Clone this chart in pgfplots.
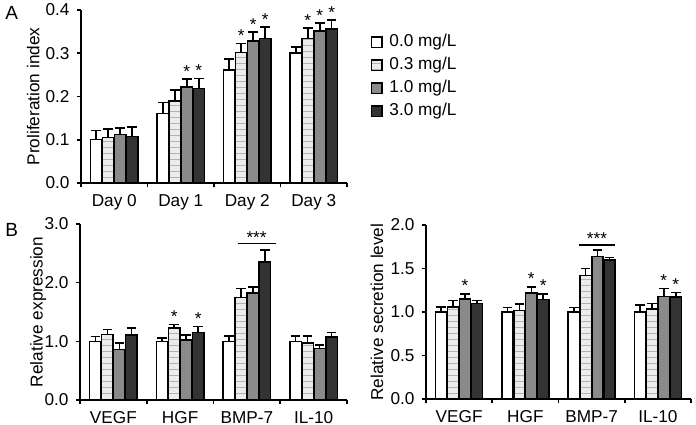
\documentclass[border=0pt]{standalone}
\usepackage{pgfplots}
\pgfplotsset{compat=1.18}
\usepackage{fontspec}
\setmainfont{Liberation Sans}
\usetikzlibrary{patterns}
\definecolor{cgray}{HTML}{8A8A8A}
\definecolor{cdark}{HTML}{333333}
\pgfplotsset{
  panel/.style={
    scale only axis,
    ybar,
    axis x line*=bottom, axis y line*=left,
    axis line style={line width=0.8pt},
    every tick/.style={line width=0.8pt, black},
    tick align=outside,
    major tick length=2.2pt, minor tick length=2.2pt,
    xmin=-0.5, xmax=3.5,
    xtick={0,1,2,3},
    minor xtick={-0.5,0.5,1.5,2.5,3.5},
    every major x tick/.append style={draw=none},
    ytick pos=left,
    font=\fontsize{8.6}{10}\selectfont,
    /pgf/number format/assume math mode=true,
    yticklabel style={/pgf/number format/.cd, fixed, fixed zerofill, precision=1},
    bar width=0.17,
    error bars/y dir=plus,
    error bars/y explicit,
    error bars/error bar style={line width=0.8pt, black},
    error bars/error mark options={rotate=90, mark size=2.4pt, line width=0.8pt, black},
    clip=false,
  },
  s0/.style={draw=black, line width=0.75pt, fill=white, bar shift=-0.27},
  s1/.style={draw=black, line width=0.75pt, fill=gray!15, postaction={pattern=horizontal lines, pattern color=gray!60}, bar shift=-0.09},
  s2/.style={draw=black, line width=0.75pt, fill=cgray, bar shift=0.09},
  s3/.style={draw=black, line width=0.75pt, fill=cdark, bar shift=0.27},
}
\newcommand{\sig}[2]{\node[anchor=south, inner sep=0.7pt, font=\fontsize{8.6}{10}\selectfont] at (axis cs:#1,#2) {*};}
\begin{document}
\begin{tikzpicture}
\useasboundingbox (0,0) rectangle (348pt,212pt);
% Panel labels
\node[anchor=north west, inner sep=0pt, font=\fontsize{9.5}{11}\selectfont] at (2.5pt,209pt) {A};
\node[anchor=north west, inner sep=0pt, font=\fontsize{9.5}{11}\selectfont] at (2.5pt,100.5pt) {B};
% ---------------- Panel A
\begin{axis}[panel,
  at={(40.5pt,120.5pt)}, anchor=south west,
  width=133pt, height=86.5pt,
  ymin=0, ymax=0.4, ytick={0,0.1,0.2,0.3,0.4},
  xticklabels={Day 0,Day 1,Day 2,Day 3},
  ylabel={Proliferation index},
  ylabel style={at={(axis description cs:-0.18,0.5)}, anchor=center},
  legend style={at={(axis description cs:1.088,0.885)}, anchor=north west, draw=none, fill=none,
    font=\fontsize{8.6}{10}\selectfont, row sep=-0.2pt, inner sep=0pt},
  legend cell align=left,
  legend image code/.code={\draw[#1, line width=0.7pt] (0pt,-2.6pt) rectangle (5.2pt,2.6pt); \path (6.6pt,0pt);},
]
\addplot[s0] coordinates {(0,0.100) +- (0,0.021) (1,0.161) +- (0,0.025) (2,0.2615) +- (0,0.025) (3,0.300) +- (0,0.015)};
\addplot[s1] coordinates {(0,0.105) +- (0,0.020) (1,0.190) +- (0,0.025) (2,0.3015) +- (0,0.021) (3,0.334) +- (0,0.024)};
\addplot[s2] coordinates {(0,0.112) +- (0,0.015) (1,0.2215) +- (0,0.019) (2,0.3285) +- (0,0.021) (3,0.3515) +- (0,0.018)};
\addplot[s3] coordinates {(0,0.108) +- (0,0.021) (1,0.218) +- (0,0.024) (2,0.334) +- (0,0.027) (3,0.356) +- (0,0.021)};
\legend{0.0 mg/L,0.3 mg/L,1.0 mg/L,3.0 mg/L}
\sig{1.09}{0.2405}\sig{1.27}{0.242}
\sig{1.91}{0.3225}\sig{2.09}{0.3495}\sig{2.27}{0.361}
\sig{2.91}{0.358}\sig{3.09}{0.3695}\sig{3.27}{0.377}
\end{axis}
% ---------------- Panel B left
\begin{axis}[panel,
  at={(40pt,12pt)}, anchor=south west,
  width=133.5pt, height=88pt,
  ymin=0, ymax=3, ytick={0,1,2,3},
  xticklabels={VEGF,HGF,BMP-7,IL-10},
  ylabel={Relative expression},
  ylabel style={at={(axis description cs:-0.157,0.5)}, anchor=center},
]
\addplot[s0] coordinates {(0,1.00) +- (0,0.08) (1,1.00) +- (0,0.06) (2,1.00) +- (0,0.09) (3,1.00) +- (0,0.09)};
\addplot[s1] coordinates {(0,1.12) +- (0,0.08) (1,1.23) +- (0,0.06) (2,1.75) +- (0,0.15) (3,0.97) +- (0,0.12)};
\addplot[s2] coordinates {(0,0.86) +- (0,0.11) (1,1.02) +- (0,0.09) (2,1.82) +- (0,0.11) (3,0.88) +- (0,0.06)};
\addplot[s3] coordinates {(0,1.11) +- (0,0.12) (1,1.15) +- (0,0.10) (2,2.35) +- (0,0.21) (3,1.07) +- (0,0.08)};
\sig{0.91}{1.29}\sig{1.27}{1.25}
\draw[line width=0.6pt] (axis cs:1.86,2.67) -- (axis cs:2.43,2.67);
\node[anchor=south, inner sep=0.5pt, font=\fontsize{8.6}{10}\selectfont] at (axis cs:2.145,2.64) {***};
\end{axis}
% ---------------- Panel B right
\begin{axis}[panel,
  at={(213pt,12.5pt)}, anchor=south west,
  width=132.5pt, height=87pt,
  ymin=0, ymax=2, ytick={0,0.5,1,1.5,2},
  xticklabels={VEGF,HGF,BMP-7,IL-10},
  ylabel={Relative secretion level},
  ylabel style={at={(axis description cs:-0.185,0.5)}, anchor=center},
]
\addplot[s0] coordinates {(0,1.00) +- (0,0.06) (1,1.00) +- (0,0.05) (2,1.00) +- (0,0.05) (3,1.00) +- (0,0.08)};
\addplot[s1] coordinates {(0,1.06) +- (0,0.07) (1,1.02) +- (0,0.07) (2,1.42) +- (0,0.08) (3,1.035) +- (0,0.065)};
\addplot[s2] coordinates {(0,1.15) +- (0,0.06) (1,1.22) +- (0,0.07) (2,1.64) +- (0,0.07) (3,1.18) +- (0,0.09)};
\addplot[s3] coordinates {(0,1.095) +- (0,0.035) (1,1.145) +- (0,0.065) (2,1.595) +- (0,0.03) (3,1.175) +- (0,0.05)};
\sig{0.09}{1.21}\sig{1.09}{1.29}\sig{1.27}{1.21}\sig{3.09}{1.27}\sig{3.27}{1.225}
\draw[line width=0.6pt] (axis cs:1.81,1.77) -- (axis cs:2.35,1.77);
\node[anchor=south, inner sep=0.5pt, font=\fontsize{8.6}{10}\selectfont] at (axis cs:2.08,1.755) {***};
\end{axis}
\end{tikzpicture}
\end{document}
